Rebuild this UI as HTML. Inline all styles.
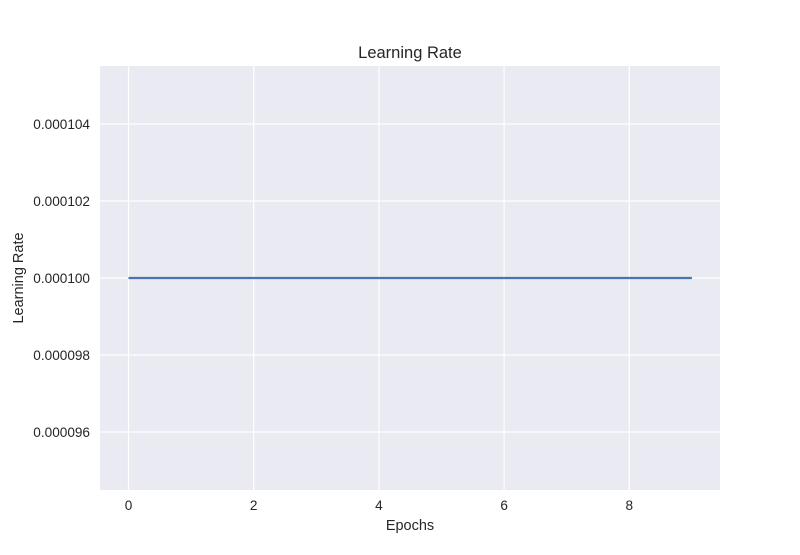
<!DOCTYPE html>
<html><head><meta charset="utf-8"><style>
body{margin:0;background:#fff;}
svg text{font-family:"Liberation Sans",sans-serif;fill:#262626;}
</style></head><body>
<svg id="chart" width="800" height="550" viewBox="0 0 800 550">
<rect x="100" y="66" width="620" height="424" fill="#eaeaf2"/>
<g id="grid"></g>
<g id="ticks"></g>
<path id="line" fill="none" stroke="#4c72b0" stroke-width="2.2"/>
<text x="410" y="58" text-anchor="middle" font-size="16.5">Learning Rate</text>
<text x="410" y="530" text-anchor="middle" font-size="14.5">Epochs</text>
<text transform="translate(23,278) rotate(-90)" text-anchor="middle" font-size="14.5">Learning Rate</text>
</svg>
<script>
const epochs=[0,1,2,3,4,5,6,7,8,9];
const lrValues=[0.0001,0.0001,0.0001,0.0001,0.0001,0.0001,0.0001,0.0001,0.0001,0.0001];
const xTicks=[0,2,4,6,8];
const yTicks=[0.000096,0.000098,0.000100,0.000102,0.000104];
const yTickLabels=["0.000096","0.000098","0.000100","0.000102","0.000104"];
const NS="http://www.w3.org/2000/svg";
const xs=v=>128.5+v*62.6;
const ys=v=>278-(v-0.0001)*38.5e6;
const grid=document.getElementById('grid'),ticks=document.getElementById('ticks');
function mk(tag,attrs,parent){const e=document.createElementNS(NS,tag);for(const k in attrs)e.setAttribute(k,attrs[k]);parent.appendChild(e);return e;}
xTicks.forEach(t=>{
 const l=mk('line',{x1:xs(t),x2:xs(t),y1:66,y2:490,stroke:'#fff','stroke-width':1.2},grid);
 
 
 const tx=mk('text',{x:xs(t),y:510,'text-anchor':'middle','font-size':13.6},ticks);
 tx.textContent=t;
 
 
});
yTicks.forEach((t,i)=>{
 const l=mk('line',{x1:100,x2:720,y1:ys(t),y2:ys(t),stroke:'#fff','stroke-width':1.2},grid);
 
 
 const tx=mk('text',{x:90,y:ys(t)+5,'text-anchor':'end','font-size':13.6},ticks);
 tx.textContent=yTickLabels[i];
 
 
});
document.getElementById('line').setAttribute('d',epochs.map((e,i)=>(i?'L':'M')+xs(e)+','+ys(lrValues[i])).join(' '));
</script>
</body></html>
